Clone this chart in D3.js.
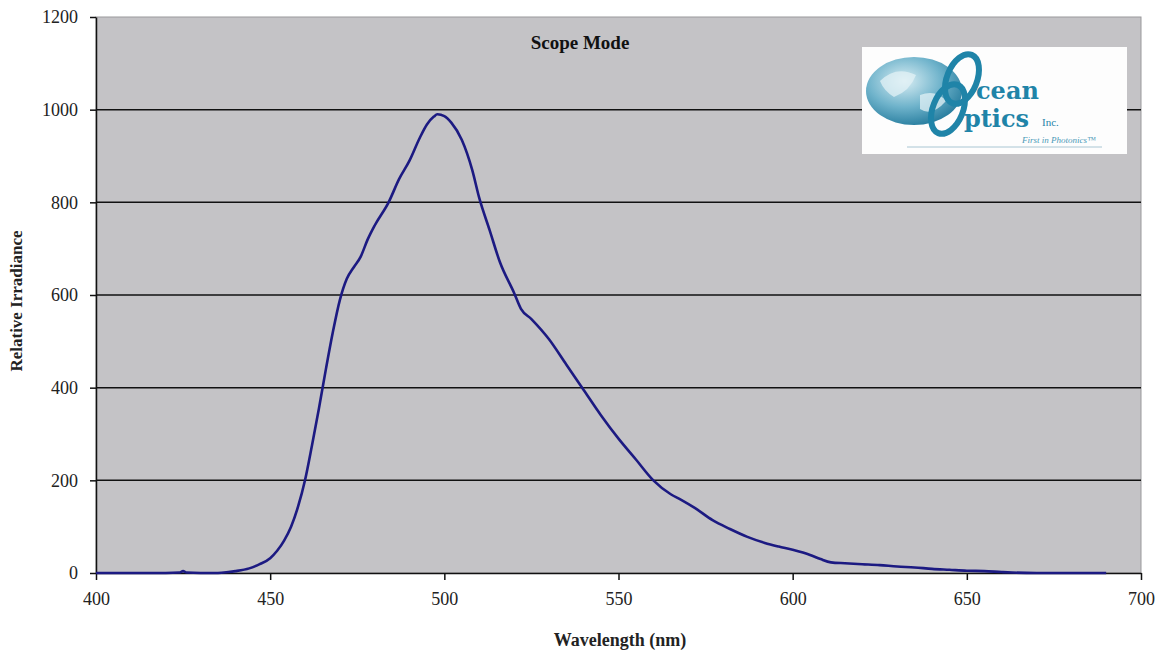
<!DOCTYPE html>
<html>
<head>
<meta charset="utf-8">
<script src="https://cdn.jsdelivr.net/npm/d3@7"></script>
<style>
  body { margin: 0; background: #fff; }
  svg { display: block; }
</style>
</head>
<body>
<svg id="chart" width="1164" height="655"></svg>
<script>
// spectrum
var wavelength = [400, 410, 420, 424, 425, 426, 430, 435, 438, 440, 444, 447, 450, 452, 454, 456, 458, 460, 462, 464, 466, 468, 470, 472, 474, 476, 478, 480, 484, 487, 490, 493, 495, 497, 498, 500, 502, 505, 508, 510, 513, 516, 520, 522, 525, 530, 535, 540, 545, 550, 555, 560, 565, 568, 572, 577, 582, 587, 592, 596, 600, 605, 608, 611, 615, 620, 625, 630, 635, 640, 645, 650, 655, 660, 663, 670, 680, 690];
var irradiance = [0, 0, 0, 1, 4, 1, 0, 0, 2, 4, 10, 19, 32, 48, 70, 100, 143, 200, 275, 355, 440, 520, 589, 635, 660, 683, 720, 750, 800, 850, 890, 940, 968, 985, 990, 986, 972, 935, 870, 810, 740, 670, 605, 570, 548, 505, 450, 395, 340, 290, 245, 200, 170, 158, 140, 114, 95, 78, 65, 57, 50, 39, 30, 23, 21, 19, 17, 14, 12, 9, 7, 5, 4, 2, 1, 0, 0, 0];

var xTicks = [400, 450, 500, 550, 600, 650, 700];
var yTicks = [0, 200, 400, 600, 800, 1000, 1200];
var gridValues = [200, 400, 600, 800, 1000];

var svg = d3.select('#chart')
var margin = {left: 96, top: 17, right: 23, bottom: 82}
var width = 1164, height = 655

var x = d3.scaleLinear().domain([400, 700]).range([margin.left, width - margin.right])
var y = d3.scaleLinear().domain([0, 1200]).range([height - margin.bottom, margin.top])

// plot background
svg.append('rect')
  .attr('x', x(400)).attr('y', y(1200))
  .attr('width', x(700) - x(400)).attr('height', y(0) - y(1200))
  .attr('fill', '#c4c3c6')
  .attr('stroke', '#9a999c').attr('stroke-width', 1)

// grid
svg.append('g').selectAll('line').data(gridValues).join('line')
  .attr('x1', x(400)).attr('x2', x(700))
  .attr('y1', function(d){ return y(d) }).attr('y2', function(d){ return y(d) })
  .attr('stroke', '#111').attr('stroke-width', 1.5)

// axes
var xAxis = svg.append('g').attr('transform', 'translate(0,' + y(0) + ')')
  .call(d3.axisBottom(x).tickValues(xTicks).tickFormat(d3.format('d'))
    .tickSizeInner(7).tickSizeOuter(0).tickPadding(12))
var yAxis = svg.append('g').attr('transform', 'translate(' + x(400) + ',0)')
  .call(d3.axisLeft(y).tickValues(yTicks).tickFormat(d3.format('d'))
    .tickSizeInner(6).tickSizeOuter(0).tickPadding(12))

;[xAxis, yAxis].forEach(function(ax){
  ax.attr('font-family', 'Liberation Serif, serif').attr('font-size', 18)
  ax.select('.domain').attr('stroke', '#111').attr('stroke-width', 1.5)
  ax.selectAll('.tick line').attr('stroke', '#111').attr('stroke-width', 1.5)
  ax.selectAll('.tick text').attr('fill', '#222')
})

// spectrum line
var pts = wavelength.map(function(w, i){ return [w, irradiance[i]] })
var line = d3.line()
  .x(function(d){ return x(d[0]) })
  .y(function(d){ return y(d[1]) })
  .curve(d3.curveMonotoneX)
svg.append('path').datum(pts)
  .attr('d', line)
  .attr('fill', 'none')
  .attr('stroke', '#1c1a82')
  .attr('stroke-width', 2.6)
  .attr('stroke-linejoin', 'round')

// titles
svg.append('text').attr('x', 580).attr('y', 49)
  .attr('text-anchor', 'middle')
  .attr('font-family', 'Liberation Serif, serif').attr('font-weight', 'bold').attr('font-size', 19)
  .attr('fill', '#111').text('Scope Mode')

svg.append('text').attr('x', 620).attr('y', 646)
  .attr('text-anchor', 'middle')
  .attr('font-family', 'Liberation Serif, serif').attr('font-weight', 'bold').attr('font-size', 18)
  .attr('fill', '#222').text('Wavelength (nm)')

svg.append('text')
  .attr('transform', 'translate(22,301) rotate(-90)')
  .attr('text-anchor', 'middle')
  .attr('font-family', 'Liberation Serif, serif').attr('font-weight', 'bold').attr('font-size', 17)
  .attr('fill', '#222').text('Relative Irradiance')

// logo box
var logo = svg.append('g').attr('transform', 'translate(862,47)')
var defs = svg.append('defs')
var grad = defs.append('radialGradient').attr('id', 'globe').attr('cx', '40%').attr('cy', '35%').attr('r', '70%')
grad.append('stop').attr('offset', '0%').attr('stop-color', '#d8edf3')
grad.append('stop').attr('offset', '55%').attr('stop-color', '#6fb3cb')
grad.append('stop').attr('offset', '100%').attr('stop-color', '#237a9c')

logo.append('rect').attr('width', 265).attr('height', 107).attr('fill', '#fdfdfd')
logo.append('ellipse').attr('cx', 52).attr('cy', 44).attr('rx', 48).attr('ry', 34).attr('fill', 'url(#globe)')
logo.append('path').attr('d', 'M18,34 Q34,18 54,28 Q48,44 32,50 Q22,44 18,34 Z M58,48 Q74,42 84,54 Q70,70 58,62 Z')
  .attr('fill', '#e3f1f6').attr('opacity', 0.75)
logo.append('ellipse').attr('cx', 100).attr('cy', 32).attr('rx', 15).attr('ry', 26)
  .attr('transform', 'rotate(22,100,32)')
  .attr('fill', 'none').attr('stroke', '#1f84a8').attr('stroke-width', 6)
logo.append('ellipse').attr('cx', 86).attr('cy', 62).attr('rx', 15).attr('ry', 26)
  .attr('transform', 'rotate(22,86,62)')
  .attr('fill', 'none').attr('stroke', '#1f84a8').attr('stroke-width', 6)
logo.append('text').attr('x', 114).attr('y', 52)
  .attr('font-family', 'DejaVu Serif, serif').attr('font-weight', 'bold').attr('font-size', 24)
  .attr('fill', '#1f84a8').text('cean')
logo.append('text').attr('x', 102).attr('y', 80)
  .attr('font-family', 'DejaVu Serif, serif').attr('font-weight', 'bold').attr('font-size', 24)
  .attr('fill', '#1f84a8').text('ptics')
logo.append('text').attr('x', 180).attr('y', 79)
  .attr('font-family', 'Liberation Serif, serif').attr('font-size', 11)
  .attr('fill', '#1f84a8').text('Inc.')
logo.append('text').attr('x', 160).attr('y', 96)
  .attr('font-family', 'Liberation Serif, serif').attr('font-style', 'italic').attr('font-size', 9)
  .attr('fill', '#4a9ab8').text('First in Photonics\u2122')
logo.append('line').attr('x1', 45).attr('x2', 240).attr('y1', 100).attr('y2', 100)
  .attr('stroke', '#a9c6d3').attr('stroke-width', 1)
</script>
</body>
</html>
